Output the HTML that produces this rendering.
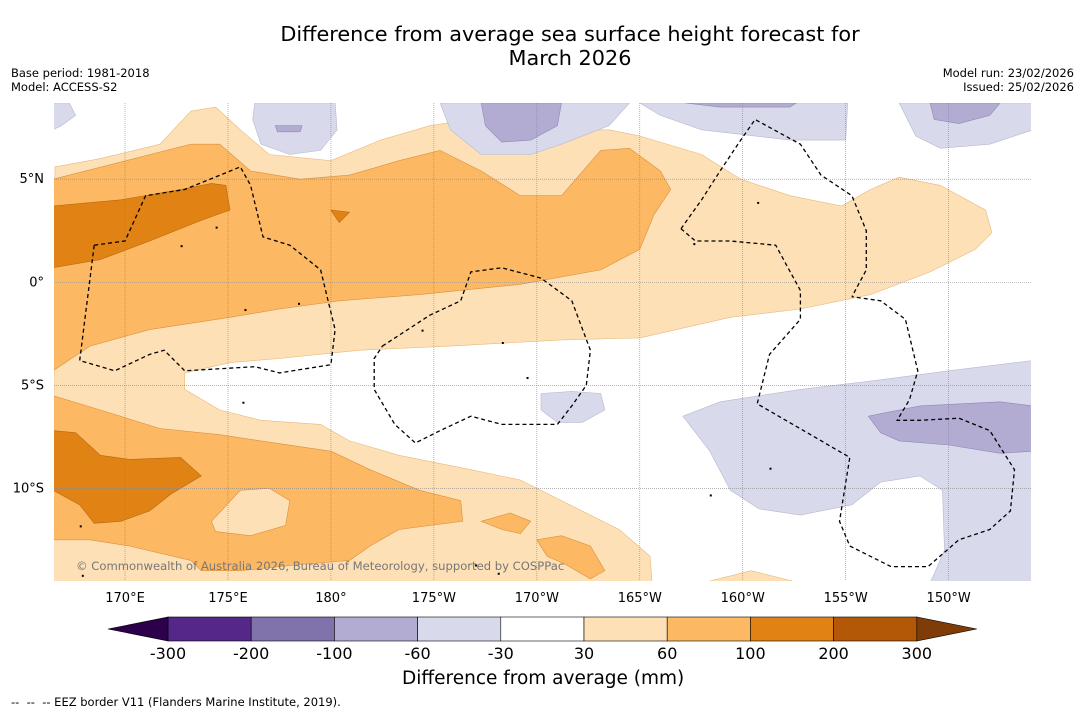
<!DOCTYPE html>
<html><head><meta charset="utf-8"><style>
body{margin:0;background:#fff;font-family:"DejaVu Sans","Liberation Sans",sans-serif;}
#wrap{position:relative;width:1085px;height:713px;overflow:hidden;background:#fff}
.t{position:absolute;white-space:nowrap;color:#000}
</style></head><body>
<div id="wrap">
<div class="t" style="left:0;width:1140px;top:22px;text-align:center;font-size:20.8px;line-height:24px">Difference from average sea surface height forecast for<br>March 2026</div>
<div class="t" style="left:11px;top:66px;font-size:11.5px;line-height:14px">Base period: 1981-2018<br>Model: ACCESS-S2</div>
<div class="t" style="right:11px;top:66px;font-size:11.5px;line-height:14px;text-align:right">Model run: 23/02/2026<br>Issued: 25/02/2026</div>
<svg id="map" width="1085" height="713" style="position:absolute;left:0;top:0"></svg>
<div class="t" style="left:402px;top:668px;font-size:18.5px">Difference from average (mm)</div>
<div class="t" style="left:11px;top:695px;font-size:11.5px">--&nbsp; --&nbsp; -- EEZ border V11 (Flanders Marine Institute, 2019).</div>
</div>
<script>
const NS='http://www.w3.org/2000/svg';
const svg=document.getElementById('map');
const FONT='DejaVu Sans, Liberation Sans, sans-serif';
const LON0=166.55,LON1=214,LAT0=-14.5,LAT1=8.7;
const X0=54,X1=1031,Y0=103,Y1=581;
function px(lon){return X0+(lon-LON0)/(LON1-LON0)*(X1-X0);}
function py(lat){return Y0+(LAT1-lat)/(LAT1-LAT0)*(Y1-Y0);}
const levels=[-300,-200,-100,-60,-30,30,60,100,200,300];
const levelColors=['#542788','#8073ac','#b2abd2','#d8daeb','#ffffff','#fee0b6','#fdb863','#e08214','#b35806'];
const lonTicks=[170,175,180,185,190,195,200,205,210];
const lonLabels=['170°E','175°E','180°','175°W','170°W','165°W','160°W','155°W','150°W'];
const latTicks=[5,0,-5,-10];
const latLabels=['5°N','0°','5°S','10°S'];
const light30=[[166.6,5.6],[168.8,6],[171.7,6.7],[173.2,8.3],[174.4,8.5],[175.6,7.4],[177,6.2],[180,5.9],[182.4,6.9],[184.8,7.6],[186.8,7.9],[188.7,6.9],[190.2,6.7],[192.2,7.4],[193.5,7.4],[195,7.1],[198,6.2],[199.9,5],[202.3,4.2],[204.8,3.7],[206.2,4.5],[207.6,5.1],[209.6,4.7],[211.8,3.5],[212.1,2.4],[211.3,1.6],[209.1,0.5],[206.2,-0.6],[202.8,-1.3],[199.4,-1.7],[195,-2.7],[191.2,-2.8],[185.8,-3.1],[181.4,-3.3],[177.5,-3.7],[175.1,-3.9],[172.9,-4.4],[172.9,-5.2],[174.6,-6.2],[176.6,-6.7],[179.5,-6.9],[180.9,-7.7],[183.3,-8.4],[186.8,-9.1],[189.2,-9.6],[191.2,-10.6],[194,-12],[195.5,-13.3],[195.6,-14.6],[166.5,-14.6]];
const med60=[[166.5,5],[173.2,6.7],[174.6,6.7],[176.1,5.4],[178.5,5],[180.9,5.2],[183.3,5.9],[185.3,6.4],[187.3,5.4],[189.2,4.2],[191.2,4.2],[193.1,6.4],[194.5,6.5],[196,5.4],[196.5,4.5],[195.7,3.3],[195,1.6],[193.1,0.6],[189.2,-0.1],[184.3,-0.6],[180.4,-0.9],[177.5,-1.3],[175.1,-1.7],[171.2,-2.3],[168.3,-3.1],[166.5,-4.3]];
const med60b=[[166.5,-5.5],[168.8,-6.2],[171.7,-7.1],[174.6,-7.4],[176.6,-7.7],[180,-8.2],[181.9,-9.1],[184.3,-10.1],[186.3,-10.6],[186.4,-11.6],[183.3,-12],[181.9,-12.8],[180.9,-13.5],[178.5,-13.7],[175.6,-14],[173.7,-14],[173.2,-13.5],[170.2,-12.8],[168.3,-12.5],[166.5,-12.5]];
const hole30=[[174.2,-11.6],[175.6,-10.1],[177,-10],[178,-10.6],[177.8,-11.8],[176.1,-12.3],[174.4,-12.1]];
const med60c=[[187.3,-11.6],[188.7,-11.2],[189.7,-11.6],[189.2,-12.2],[188.3,-12]];
const med60d=[[190,-12.5],[191.2,-12.3],[192.6,-12.8],[193.3,-14],[192.6,-14.4],[191.4,-13.7],[190.5,-13.3]];
const light30b=[[198,-14.6],[200.4,-14],[202.8,-14.6]];
const dark100=[[166.5,3.7],[169.8,4],[172.7,4.5],[174.2,4.8],[174.9,4.7],[175.1,3.5],[173.7,3],[171.2,2],[168.8,1.1],[166.5,0.7]];
const dark100b=[[166.5,-7.2],[167.6,-7.3],[168.8,-8.4],[170.2,-8.6],[172.7,-8.5],[173.7,-9.4],[172.2,-10.3],[171.2,-11.1],[169.8,-11.6],[168.5,-11.7],[167.8,-10.8],[166.5,-10.1]];
const dark100c=[[180,3.5],[180.9,3.4],[180.4,2.9]];
const pale=[
[[166.5,8.7],[167.3,8.7],[167.6,8.1],[166.9,7.6],[166.5,7.4]],
[[176.3,8.7],[180.2,8.7],[180.3,7.4],[179.5,6.4],[178,6.2],[176.6,6.7],[176.2,7.9]],
[[185.3,8.7],[194.5,8.7],[193.5,7.6],[191.2,6.7],[189.7,6.2],[187.3,6.2],[185.8,7.4]],
[[195,8.7],[205.1,8.7],[205,6.9],[202.3,6.9],[198,7.4],[196,8.1]],
[[207.6,8.7],[214.1,8.7],[214.1,7.4],[212,6.7],[209.6,6.5],[208.4,7.1]],
[[197.1,-6.5],[198.9,-5.8],[202.8,-5.2],[206.2,-4.8],[210,-4.3],[214.1,-3.8],[214.1,-14.6],[209.1,-14.6],[209.8,-13],[209.7,-10.1],[208.6,-9.4],[206.7,-9.7],[205.3,-10.8],[202.8,-11.3],[200.8,-11],[199.4,-10.1],[198.4,-8.2]],
[[190.2,-5.4],[191.7,-5.3],[193.1,-5.4],[193.3,-6.2],[192.2,-6.8],[191,-6.8],[190.2,-6.2]]];
const purp=[
[[187.3,8.7],[191.2,8.7],[191,7.6],[189.7,6.9],[188.3,6.8],[187.5,7.6]],
[[177.3,7.6],[178.6,7.6],[178.5,7.3],[177.4,7.3]],
[[197.2,8.7],[202.6,8.7],[202.3,8.5],[198.9,8.5]],
[[209.1,8.7],[212.5,8.7],[212,8.1],[210.5,7.7],[209.3,7.9]],
[[206.1,-6.5],[208.6,-6],[212.5,-5.8],[214.1,-6],[214.1,-8.2],[212.5,-8.3],[210,-7.9],[207.6,-7.7],[206.7,-7.3]]];
const eez=[
[[168.5,1.8],[170,2],[171,4.2],[172.9,4.5],[175.6,5.6],[176.1,4.7],[176.7,2.2],[178,1.8],[179.5,0.6],[180.2,-2.3],[180,-4],[177.5,-4.4],[176.3,-4.1],[172.9,-4.3],[171.9,-3.3],[171.2,-3.5],[169.5,-4.3],[167.8,-3.8],[168.5,1.8]],
[[182.5,-3.1],[184.8,-1.6],[186.3,-0.9],[186.8,0.5],[188.3,0.7],[190.2,0.2],[191.7,-0.9],[192.6,-3.3],[192.4,-5],[191.7,-6],[191,-6.9],[188.3,-6.9],[186.8,-6.5],[185.3,-7.2],[184.1,-7.8],[183.1,-6.9],[182.1,-5.2],[182.1,-3.7],[182.5,-3.1]],
[[197,2.6],[198,4],[198.9,5.4],[199.9,6.9],[200.6,7.9],[202.8,6.7],[203.8,5.2],[205.3,4.2],[206,2.5],[206,0.6],[205.3,-0.7]],
[[197,2.6],[197.7,2],[199.4,2],[201.6,1.8],[202.8,-0.4],[202.8,-1.8],[201.3,-3.5],[200.7,-5.9],[205.2,-8.5],[204.7,-11.6],[205.2,-12.8],[207.2,-13.8],[209,-13.8],[210.5,-12.5],[212,-12],[213,-11.1],[213.2,-9.1],[212,-7.2],[210.5,-6.6],[208.6,-6.7],[207.5,-6.7],[208.1,-5.7],[208.5,-4.3],[207.9,-1.8],[206.7,-0.9],[205.3,-0.7]]];
const islands=[[175.8,-1.3],[178.4,-1],[184.4,-2.3],[188.3,-2.9],[189.5,-4.6],[197.6,1.9],[200.7,3.9],[167.8,-11.8],[187,-13.7],[188.1,-14.1],[167.9,-14.2],[201.3,-9],[198.4,-10.3],[175.7,-5.8],[174.4,2.7],[172.7,1.8]];

function el(tag,attrs,parent){const e=document.createElementNS(NS,tag);for(const k in attrs)e.setAttribute(k,attrs[k]);(parent||svg).appendChild(e);return e;}
function pts(a){return a.map(p=>px(p[0]).toFixed(1)+','+py(p[1]).toFixed(1)).join(' ');}
const defs=el('defs',{});
const cp=el('clipPath',{id:'clip'},defs);
el('rect',{x:X0,y:Y0,width:X1-X0,height:Y1-Y0},cp);
const g=el('g',{'clip-path':'url(#clip)'});


function poly(a,fill,stroke,name){const p=el('polygon',{points:pts(a),fill:fill,stroke:stroke,'stroke-width':0.6},g);

}
poly(light30,levelColors[5],'#e8b87a','contour-30-60');
poly(light30b,levelColors[5],'#e8b87a','contour-30-60-south');
poly(med60,levelColors[6],'#d9903d','contour-60-100-north');
poly(med60b,levelColors[6],'#d9903d','contour-60-100-south');
poly(hole30,levelColors[5],'#d9903d','contour-30-60-island');
poly(med60c,levelColors[6],'#d9903d','contour-60-100-patch');
poly(med60d,levelColors[6],'#d9903d','contour-60-100-patch');
poly(dark100,levelColors[7],'#b8680c','contour-100-200-north');
poly(dark100b,levelColors[7],'#b8680c','contour-100-200-south');
poly(dark100c,levelColors[7],'#b8680c','contour-100-200-patch');
pale.forEach(a=>poly(a,levelColors[3],'#b8b8d0','contour-minus60-minus30'));
purp.forEach(a=>poly(a,levelColors[2],'#9088b8','contour-minus100-minus60'));
lonTicks.forEach(l=>{const ln=el('line',{x1:px(l),x2:px(l),y1:Y0,y2:Y1,stroke:'#888','stroke-width':0.6,'stroke-dasharray':'1,1'},g);

});
latTicks.forEach(l=>{const ln=el('line',{x1:X0,x2:X1,y1:py(l),y2:py(l),stroke:'#888','stroke-width':0.6,'stroke-dasharray':'1,1'},g);

});
eez.forEach(a=>{const p=el('polyline',{points:pts(a),fill:'none',stroke:'#000','stroke-width':1.3,'stroke-dasharray':'4,3'},g);

});
islands.forEach(a=>{const c=el('rect',{x:px(a[0]),y:py(a[1]),width:2,height:2,fill:'#000'},g);

});
const cr=el('text',{x:76,y:570,'font-size':11.6,fill:'#777','font-family':FONT},g);
cr.textContent='© Commonwealth of Australia 2026, Bureau of Meteorology, supported by COSPPac';


lonTicks.forEach((l,i)=>{const t=el('text',{x:px(l),y:602,'font-size':13,'text-anchor':'middle','font-family':FONT});t.textContent=lonLabels[i];

});
latTicks.forEach((l,i)=>{const t=el('text',{x:44,y:py(l)+4,'font-size':13,'text-anchor':'end','font-family':FONT});t.textContent=latLabels[i];

});
const CB0=168,CBW=83.2,CBY=617,CBH=24;
levelColors.forEach((c,i)=>{const r=el('rect',{x:CB0+i*CBW,y:CBY,width:CBW,height:CBH,fill:c,stroke:'#000','stroke-width':0.6});

});
const lt=el('polygon',{points:`108,${CBY+12} ${CB0},${CBY} ${CB0},${CBY+CBH}`,fill:'#2d004b',stroke:'#000','stroke-width':0.6});


const xe=CB0+levelColors.length*CBW;
const rt=el('polygon',{points:`${xe+60},${CBY+12} ${xe},${CBY} ${xe},${CBY+CBH}`,fill:'#7f3b08',stroke:'#000','stroke-width':0.6});


levels.forEach((v,i)=>{const t=el('text',{x:CB0+i*CBW,y:659,'font-size':16,'text-anchor':'middle','font-family':FONT});t.textContent=v;

});
</script>
</body></html>
